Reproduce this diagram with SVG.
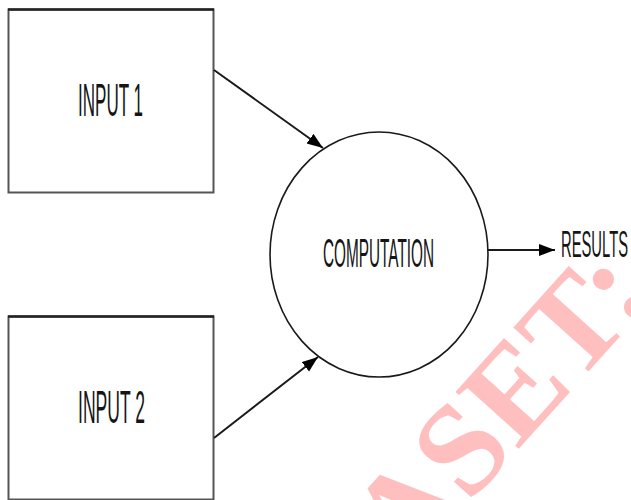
<svg xmlns="http://www.w3.org/2000/svg" width="631" height="500" viewBox="0 0 631 500">
  <defs>
    <style>
      .box { fill: #ffffff; stroke: #555555; stroke-width: 2; }
      .topedge { stroke: #222222; stroke-width: 2.6; }
      .lbl { font-family: "Liberation Sans", Arial, sans-serif; fill: #151515; }
      .conn { stroke: #1a1a1a; stroke-width: 2; fill: none; }
      .wm { font-family: "Liberation Serif", "Times New Roman", serif; font-weight: bold; fill: #ffbfbf; }
    </style>
    <marker id="arrow" markerUnits="userSpaceOnUse" markerWidth="18" markerHeight="14" refX="16" refY="6" orient="auto">
      <path d="M0,0 L16,6 L0,12 Z" fill="#000000"/>
    </marker>
  </defs>
  <rect width="631" height="500" fill="#ffffff"/>

  <g id="watermark">
    <text class="wm" font-size="130" transform="translate(406,574) rotate(-48)">ASET:</text>
  </g>

  <g id="input1">
    <rect class="box" x="8.5" y="9.5" width="205" height="183"/>
    <line class="topedge" x1="8" y1="9.5" x2="214" y2="9.5"/>
    <text class="lbl" x="78" y="116" font-size="46" textLength="65" lengthAdjust="spacingAndGlyphs">INPUT 1</text>
  </g>

  <g id="input2">
    <rect class="box" x="8.5" y="316.5" width="205" height="183"/>
    <line class="topedge" x1="8" y1="316.5" x2="214" y2="316.5"/>
    <text class="lbl" x="78" y="423" font-size="46" textLength="67" lengthAdjust="spacingAndGlyphs">INPUT 2</text>
  </g>

  <g id="computation">
    <ellipse cx="379" cy="254.5" rx="109" ry="122.5" fill="none" stroke="#1a1a1a" stroke-width="1.6"/>
    <text class="lbl" x="323" y="267" font-size="40.5" textLength="111" lengthAdjust="spacingAndGlyphs">COMPUTATION</text>
  </g>

  <g id="results">
    <text class="lbl" x="561" y="257" font-size="37.7" textLength="67" lengthAdjust="spacingAndGlyphs">RESULTS</text>
  </g>

  <g id="connectors">
    <line class="conn" x1="214" y1="70" x2="323" y2="148" marker-end="url(#arrow)"/>
    <line class="conn" x1="214" y1="438" x2="318" y2="357" marker-end="url(#arrow)"/>
    <line class="conn" x1="488" y1="250" x2="555" y2="250" marker-end="url(#arrow)"/>
  </g>
</svg>
